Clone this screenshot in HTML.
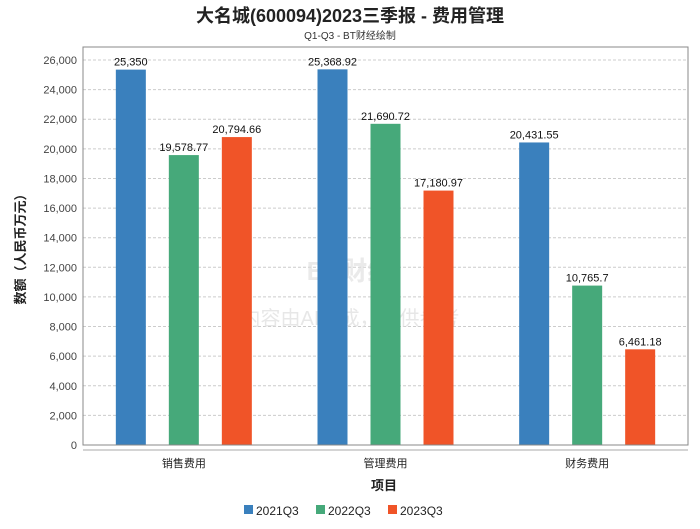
<!DOCTYPE html>
<html><head><meta charset="utf-8"><style>
body{margin:0;background:#fff;font-family:"Liberation Sans","Noto Sans CJK SC",sans-serif;}
svg text{font-family:"Liberation Sans","Noto Sans CJK SC",sans-serif;}
</style></head><body>
<svg id="chart" width="700" height="524">
<text x="350" y="22" text-anchor="middle" font-size="18" font-weight="bold" fill="#222">大名城(600094)2023三季报 - 费用管理</text>
<text x="350" y="39" text-anchor="middle" font-size="10" fill="#333">Q1-Q3 - BT财经绘制</text>
<g id="grid"></g>
<text x="350" y="280" text-anchor="middle" font-size="26" font-weight="bold" fill="#ddd" opacity="0.6">BT财经</text>
<text x="350" y="325" text-anchor="middle" font-size="20" fill="#ddd" opacity="0.7">内容由AI生成，仅供参考</text>
<g id="bars"></g>
<rect x="83" y="47" width="605" height="398" fill="none" stroke="#888"/>
<line x1="83" y1="450" x2="688" y2="450" stroke="#aaa"/>
<text x="384" y="490" text-anchor="middle" font-size="13" font-weight="bold" fill="#222">项目</text>
<text transform="translate(25,246) rotate(-90)" text-anchor="middle" font-size="13" font-weight="bold" fill="#222">数额（人民币万元）</text>
<g id="legend"></g>
</svg>
<script>
const categories=["销售费用","管理费用","财务费用"];
const seriesNames=["2021Q3","2022Q3","2023Q3"];
const s2021=[25350,25368.92,20431.55];
const s2022=[19578.77,21690.72,10765.7];
const s2023=[20794.66,17180.97,6461.18];
const labels2021=["25,350","25,368.92","20,431.55"];
const labels2022=["19,578.77","21,690.72","10,765.7"];
const labels2023=["20,794.66","17,180.97","6,461.18"];
const yTicks=[0,2000,4000,6000,8000,10000,12000,14000,16000,18000,20000,22000,24000,26000];
const colors=["#3a80bd","#46a97a","#f05428"];
const NS="http://www.w3.org/2000/svg";
const L=83,R=688,B=445;
function y(v){return B-v*385/26000;}
function x(i){return L+(R-L)/categories.length*(i+0.5);}
function mk(t,a,p){const e=document.createElementNS(NS,t);for(const k in a)e.setAttribute(k,a[k]);p.appendChild(e);return e;}
const grid=document.getElementById('grid');
yTicks.forEach(v=>{
 const l=mk('line',{x1:L,x2:R,y1:y(v),y2:y(v),stroke:'#ccc','stroke-dasharray':'3,2'},grid);
 
 
 const t=mk('text',{x:L-6,y:y(v)+4,'text-anchor':'end','font-size':11,fill:'#444'},grid);
 t.textContent=v.toLocaleString('en-US');
 
 
});
const bars=document.getElementById('bars');
const series=[s2021,s2022,s2023],lbls=[labels2021,labels2022,labels2023];
categories.forEach((c,i)=>{
 const t=mk('text',{x:x(i),y:467,'text-anchor':'middle','font-size':11,fill:'#222'},bars);
 t.textContent=c;
 
 
 series.forEach((s,j)=>{
  const cx=x(i)+(j-1)*53;
  const r=mk('rect',{x:cx-15,y:y(s[i]),width:30,height:B-y(s[i]),fill:colors[j]},bars);
  
  
  const lt=mk('text',{x:cx,y:y(s[i])-4,'text-anchor':'middle','font-size':11,fill:'#111'},bars);
  lt.textContent=lbls[j][i];
  
  
 });
});
const lg=document.getElementById('legend');
const lx=[244,316,388];
seriesNames.forEach((n,j)=>{
 const r=mk('rect',{x:lx[j],y:505,width:9,height:9,fill:colors[j]},lg);
 
 
 const t=mk('text',{x:lx[j]+12,y:515,'font-size':12,fill:'#222'},lg);
 t.textContent=n;
 
 
});
</script>
</body></html>
